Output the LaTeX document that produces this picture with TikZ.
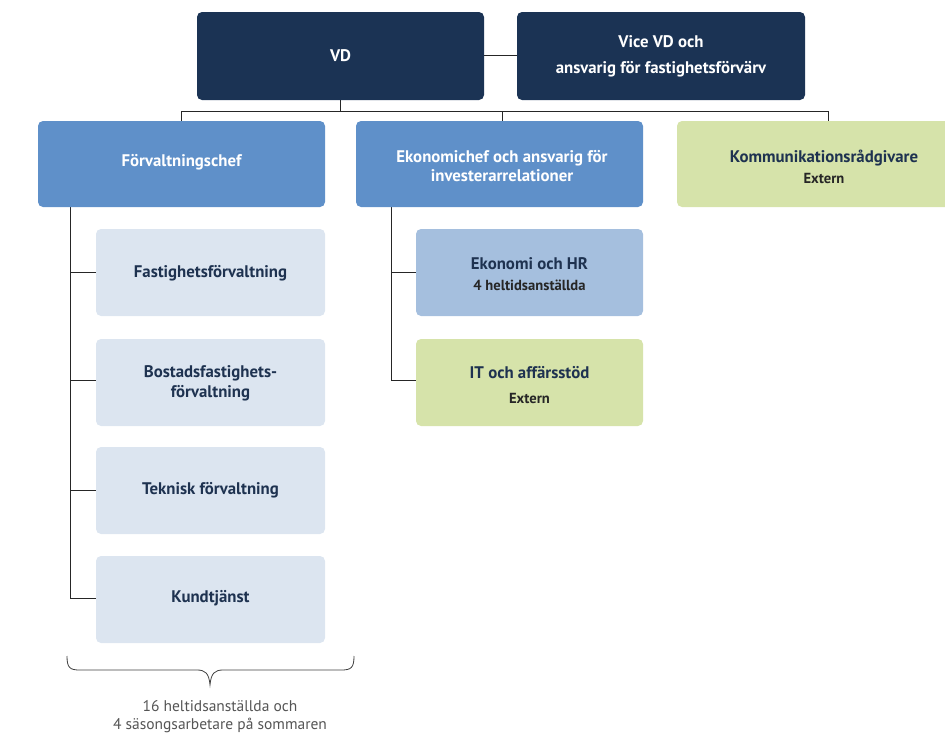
\documentclass[tikz,border=0pt]{standalone}
\usepackage{fontspec}
\setmainfont{PT Sans}
\definecolor{navy}{HTML}{1B3354}
\definecolor{midblue}{HTML}{5F90C9}
\definecolor{lgreen}{HTML}{D6E3AA}
\definecolor{pale}{HTML}{DCE5F0}
\definecolor{skyb}{HTML}{A5BFDE}
\definecolor{txtdark}{HTML}{1E3250}
\definecolor{notegray}{HTML}{555555}
\newcommand{\mainfs}[1]{\fontsize{16.8}{#1}\selectfont\bfseries}
\newcommand{\subl}[1]{{\fontsize{14.6}{14}\selectfont\bfseries\color{black!85}#1}}
\tikzset{
  boxfill/.style={rounded corners=5pt},
  topbox/.style={boxfill, fill=navy},
  chefbox/.style={boxfill, fill=midblue},
  extbox/.style={boxfill, fill=lgreen},
  subbox/.style={boxfill, fill=pale},
  ekbox/.style={boxfill, fill=skyb},
  lbl/.style={inner sep=0pt, align=center, font=\mainfs{18}},
  wlbl/.style={lbl, text=white},
  dlbl/.style={lbl, text=txtdark},
  conn/.style={draw=black!85, line width=0.9pt},
}
\begin{document}
\begin{tikzpicture}[x=1pt,y=-1pt]
\useasboundingbox (0,0) rectangle (945,736);
\clip (0,0) rectangle (945,736);
% connectors
\coordinate (vdb) at (340,111);
\coordinate (hl) at (181,111);
\coordinate (hr) at (828,111);
\coordinate (hm) at (502,111);
\draw[conn] (340,100) -- (vdb);
\draw[conn] (hl) -- (hr);
\draw[conn] (hl) -- (181,121);
\draw[conn] (hm) -- (502,121);
\draw[conn] (hr) -- (828,121);
\draw[conn] (484,55) -- (517,55);
\draw[conn] (70,207) -- (70,598);
\foreach \y in {272,380,490,598} \draw[conn] (70,\y) -- (96,\y);
\draw[conn] (391,207) -- (391,380);
\foreach \y in {272,380} \draw[conn] (391,\y) -- (416,\y);

% top boxes
\path[topbox] (197,12) rectangle (484,100);
\node[wlbl] (vd) at (340.5,56) {VD};
\path[topbox] (517,12) rectangle (805,100);
\node[wlbl, font=\mainfs{26}] (vvd) at (661,56) {Vice VD och\\ansvarig för fastighetsförvärv};
% row 2
\path[chefbox] (38,121) rectangle (325,207);
\node[wlbl] (fc) at (181.5,162) {Förvaltningschef};
\path[chefbox] (356,121) rectangle (643,207);
\node[wlbl, font=\mainfs{19}] (ek) at (502,166) {Ekonomichef och ansvarig för\\investerarrelationer};
\path[extbox] (677,121) rectangle (972,207);
\node[dlbl, font=\mainfs{21}] (kom) at (824,167) {Kommunikationsrådgivare\\\subl{Extern}};
% left sub boxes
\path[subbox] (96,229) rectangle (325,316);
\node[dlbl] (f1) at (210.5,273) {Fastighetsförvaltning};
\path[subbox] (96,339) rectangle (325,426);
\node[dlbl, font=\mainfs{20}] (f2) at (210.5,383) {Bostadsfastighets-\\förvaltning};
\path[subbox] (96,447) rectangle (325,534);
\node[dlbl] (f3) at (210.5,490) {Teknisk förvaltning};
\path[subbox] (96,556) rectangle (325,643);
\node[dlbl] (f4) at (210.5,598) {Kundtjänst};
% middle sub boxes
\path[ekbox] (416,229) rectangle (643,316);
\node[dlbl, font=\mainfs{21}] (e1) at (529.5,274) {Ekonomi och HR\\\subl{4 heltidsanställda}};
\path[extbox] (416,339) rectangle (643,426);
\node[dlbl, font=\mainfs{25}] (e2) at (529.5,385) {IT och affärsstöd\\\subl{Extern}};
% brace
\draw[draw=black!75, line width=0.8pt] (67,656) .. controls (67,668) and (70,670) .. (80,670) -- (197,670) .. controls (205,670) and (209,673) .. (210,685) .. controls (211,673) and (215,670) .. (223,670) -- (341,670) .. controls (351,670) and (354,668) .. (354,656);
\node[align=center, inner sep=0pt, font=\fontsize{15.5}{18}\selectfont, text=notegray] (note) at (220,717) {16 heltidsanställda och\\4 säsongsarbetare på sommaren};
\end{tikzpicture}
\end{document}
